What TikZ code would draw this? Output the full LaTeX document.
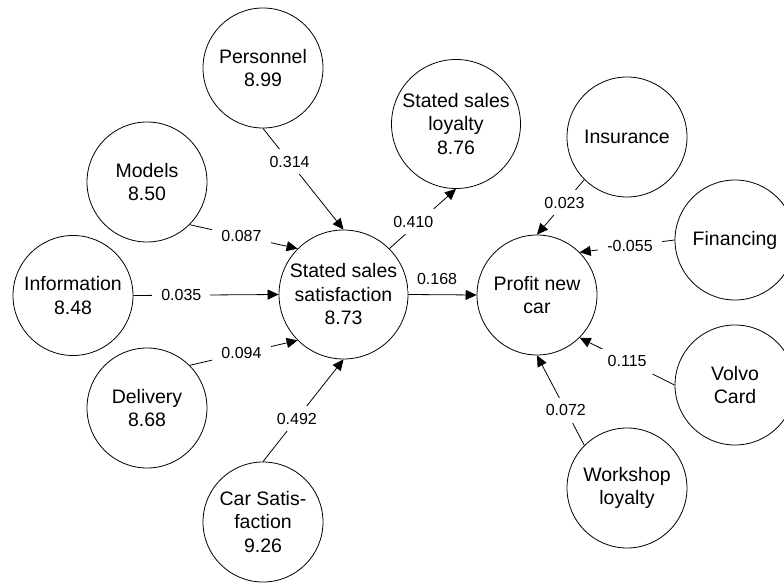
\documentclass[tikz,border=0pt]{standalone}
\usepackage{fontspec}
\setmainfont{Liberation Sans}
\usetikzlibrary{arrows.meta}
\begin{document}
\begin{tikzpicture}[x=1pt,y=1pt]
\tikzset{cercle/.style={draw, circle, line width=0.8pt, minimum size=120pt, inner sep=0pt, align=center, font=\fontsize{19.5}{23.5}\selectfont}}
\tikzset{grandcercle/.style={cercle, minimum size=129pt}}
\tikzset{fleche/.style={-{Triangle[length=11pt,width=10pt]}, line width=0.8pt}}
\tikzset{poids/.style={fill=white, inner xsep=9pt, inner ysep=7pt, font=\fontsize{16}{18}\selectfont}}
\clip (0,0) rectangle (784,-585);
\node[cercle] (Pers) at (263,-68) {Personnel\\8.99};
\node[cercle] (Models) at (147,-182) {Models\\8.50};
\node[cercle] (Info) at (73,-295.5) {Information\\8.48};
\node[cercle] (Deliv) at (147,-408) {Delivery\\8.68};
\node[cercle] (Car) at (263,-522) {Car Satis-\\faction\\9.26};
\node[grandcercle] (SSS) at (343.5,-294.5) {Stated sales\\satisfaction\\8.73};
\node[grandcercle] (SSL) at (456,-124) {Stated sales\\loyalty\\8.76};
\node[cercle] (Insur) at (627,-137) {Insurance};
\node[cercle] (Fin) at (735,-240) {Financing};
\node[cercle] (Profit) at (537,-295) {Profit new\\car};
\node[cercle] (Volvo) at (735,-385) {Volvo\\Card};
\node[cercle] (Work) at (627,-488) {Workshop\\loyalty};
\draw[fleche] (Pers.south) -- node[poids, pos=0.33] {0.314} (SSS.north);
\draw[fleche] (Models.-45) -- node[poids, pos=0.48] {0.087} (SSS.135);
\draw[fleche] (Info.east) -- node[poids, pos=0.33] {0.035} (SSS.west);
\draw[fleche] (Deliv.45) -- node[poids, pos=0.48] {0.094} (SSS.-135);
\draw[fleche] (Car.north) -- node[poids, pos=0.42] {0.492} (SSS.south);
\draw[fleche] (SSS.45) -- node[poids, pos=0.45, xshift=-6pt] {0.410} (SSL.south);
\draw[fleche] (SSS.east) -- node[poids, above=3pt, pos=0.42] {0.168} (Profit.west);
\draw[fleche] (Insur.-135) -- node[poids, pos=0.42] {0.023} (Profit.north);
\draw[fleche] (Fin.west) -- node[poids, pos=0.47] {-0.055} (Profit.45);
\draw[fleche] (Volvo.west) -- node[poids, pos=0.5] {0.115} (Profit.-45);
\draw[fleche] (Work.135) -- node[poids, pos=0.39] {0.072} (Profit.south);
\end{tikzpicture}
\end{document}
